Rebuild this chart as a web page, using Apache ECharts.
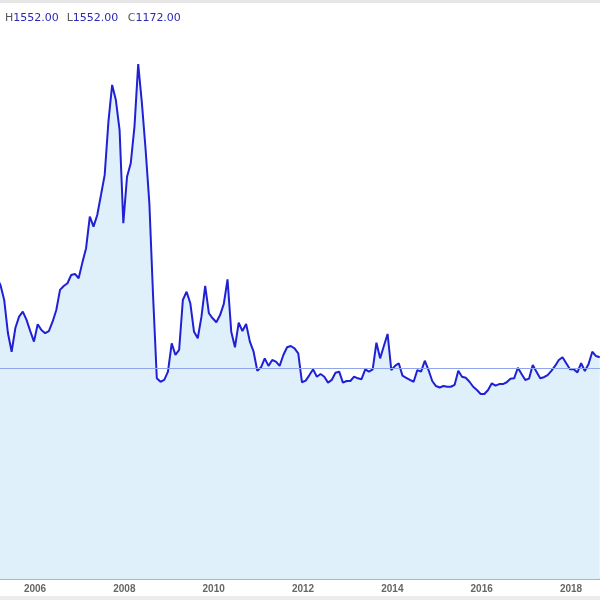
<!DOCTYPE html>
<html>
<head>
<meta charset="utf-8">
<script src="https://cdn.jsdelivr.net/npm/echarts@6/dist/echarts.min.js"></script>
<style>html,body{margin:0;padding:0;background:#fff}#c{width:600px;height:600px}</style>
</head>
<body>
<div id="c"></div>
<script>
// Monthly series starting Feb 2005
const startYear = 2005;
const startMonth = 2; // February
const values = [
  1680,1636,1553,1369,1265,1397,1460,1488,1442,1380,
  1321,1418,1386,1368,1380,1432,1497,1609,1631,1646,
  1692,1698,1674,1761,1841,2017,1961,2026,2137,2249,
  2545,2750,2666,2499,1980,2239,2314,2518,2866,2648,
  2388,2091,1575,1117,1098,1108,1154,1312,1247,1275,
  1553,1599,1535,1376,1340,1460,1631,1479,1451,1429,
  1469,1531,1668,1376,1290,1427,1380,1419,1321,1265,
  1159,1178,1228,1186,1219,1210,1186,1247,1290,1297,
  1284,1256,1095,1104,1135,1167,1126,1141,1126,1093,
  1108,1148,1154,1093,1102,1102,1126,1117,1112,1167,
  1154,1167,1315,1228,1297,1364,1163,1186,1201,1132,
  1120,1108,1098,1163,1154,1215,1163,1102,1074,1066,
  1074,1070,1070,1080,1159,1126,1120,1098,1070,1052,
  1030,1030,1052,1089,1076,1085,1085,1095,1115,1117,
  1176,1141,1108,1115,1191,1154,1117,1123,1135,1158,
  1186,1219,1234,1201,1167,1167,1150,1201,1158,1197,
  1265,1241,1234
];
const yearTicks = [2006, 2008, 2010, 2012, 2014, 2016, 2018];
const refValue = 1172;
const headerItems = [["H", "1552.00"], ["L", "1552.00"], ["C", "1172.00"]];

// month -> decimal year (data point placed late in month)
const data = values.map((v, i) => {
  const mIdx = (startMonth - 1) + i;
  return [startYear + (mIdx + 0.72) / 12, v];
});

const chart = echarts.init(document.getElementById('c'), null, {renderer: 'canvas'});
const headerX = [5, 66.7, 127.7];
const graphics = [
  {type: 'rect', shape: {x: 0, y: 0, width: 600, height: 3}, style: {fill: '#e6e6e6'}, silent: true},
  {type: 'rect', shape: {x: 0, y: 596, width: 600, height: 4}, style: {fill: '#ececec'}, silent: true}
];
headerItems.forEach((h, i) => {
  graphics.push({
    type: 'text', left: headerX[i], top: 13,
    style: {
      text: '{k|' + h[0] + '}{v|' + h[1] + '}',
      rich: {
        k: {fill: '#555555', fontSize: 11, fontFamily: 'DejaVu Sans'},
        v: {fill: '#2a2ab8', fontSize: 11, fontFamily: 'DejaVu Sans'}
      }
    }
  });
});

chart.setOption({
  animation: false,
  backgroundColor: '#ffffff',
  grid: {left: 0, right: 0, top: 40, bottom: 21, containLabel: false},
  xAxis: {
    type: 'value',
    min: 2005.216,
    max: 2018.649,
    splitLine: {show: false},
    axisLine: {show: true, lineStyle: {color: '#9a9a9a', width: 1.5}},
    axisTick: {show: true, inside: true, length: 3, customValues: yearTicks, lineStyle: {color: '#999'}},
    axisLabel: {
      customValues: yearTicks,
      formatter: v => String(Math.round(v)),
      color: '#666666', fontSize: 10, fontFamily: 'Liberation Sans', fontWeight: 'bold',
      margin: 5
    }
  },
  yAxis: {
    type: 'value', min: 0, max: 3000,
    show: false,
    splitLine: {show: false}
  },
  graphic: graphics,
  series: [{
    type: 'line',
    data: data,
    showSymbol: false,
    symbol: 'none',
    lineStyle: {color: '#2020d4', width: 2},
    areaStyle: {color: '#dff0fa', opacity: 1},
    markLine: {
      silent: true,
      symbol: 'none',
      label: {show: false},
      lineStyle: {color: '#8fa6ee', width: 1, type: 'solid'},
      data: [{yAxis: refValue}]
    },
    z: 3
  }]
});
</script>
</body>
</html>
